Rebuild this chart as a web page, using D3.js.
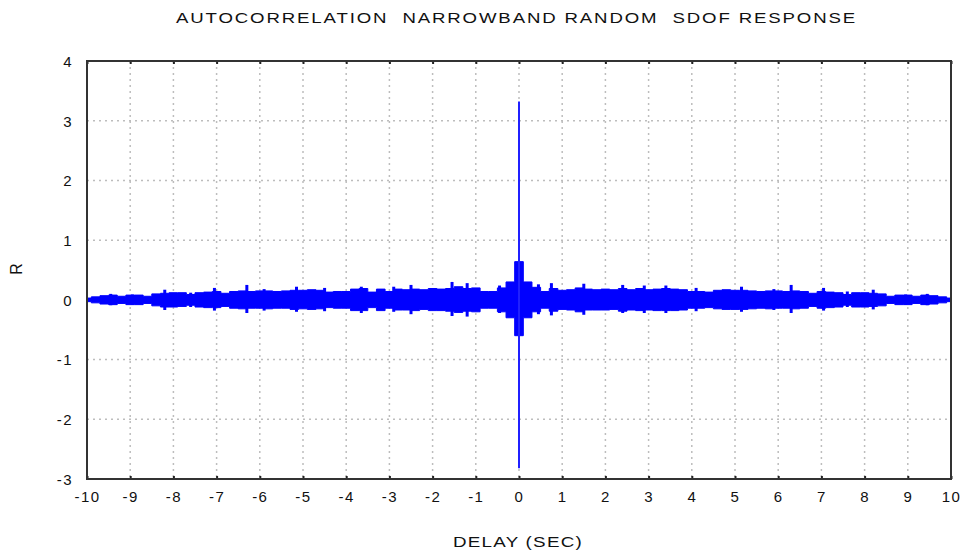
<!DOCTYPE html>
<html>
<head>
<meta charset="utf-8">
<script src="https://cdn.jsdelivr.net/npm/d3@7"></script>
<style>
body { margin: 0; background: #fff; }
text { font-family: "Liberation Sans", Arial, sans-serif; fill: #111; }
</style>
</head>
<body>
<svg id="chart" width="964" height="556"></svg>
<script>
// Tick values
const delayTicks = [-10, -9, -8, -7, -6, -5, -4, -3, -2, -1, 0, 1, 2, 3, 4, 5, 6, 7, 8, 9, 10];
const rTicks = [-3, -2, -1, 0, 1, 2, 3, 4];

// Sample delays (sec) for the envelope of the oscillating response
const delay = [
  -10.0, -9.8, -9.6, -9.4, -9.2, -9.0, -8.8, -8.6, -8.4, -8.2,
  -8.0, -7.8, -7.6, -7.4, -7.2, -7.0, -6.8, -6.6, -6.4, -6.2,
  -6.0, -5.8, -5.6, -5.4, -5.2, -5.0, -4.8, -4.6, -4.4, -4.2,
  -4.0, -3.8, -3.6, -3.4, -3.2, -3.0, -2.8, -2.6, -2.4, -2.2,
  -2.0, -1.8, -1.6, -1.4, -1.2, -1.0, -0.8, -0.6, -0.4, -0.2,
  0.0,
  0.2, 0.4, 0.6, 0.8, 1.0, 1.2, 1.4, 1.6, 1.8, 2.0,
  2.2, 2.4, 2.6, 2.8, 3.0, 3.2, 3.4, 3.6, 3.8, 4.0,
  4.2, 4.4, 4.6, 4.8, 5.0, 5.2, 5.4, 5.6, 5.8, 6.0,
  6.2, 6.4, 6.6, 6.8, 7.0, 7.2, 7.4, 7.6, 7.8, 8.0,
  8.2, 8.4, 8.6, 8.8, 9.0, 9.2, 9.4, 9.6, 9.8, 10.0
];

// Upper envelope of R in each sample bin
const rUpper = [
  0.03, 0.05, 0.07, 0.08, 0.06, 0.08, 0.08, 0.06, 0.10, 0.11,
  0.12, 0.12, 0.09, 0.12, 0.13, 0.14, 0.11, 0.14, 0.15, 0.14,
  0.15, 0.15, 0.14, 0.15, 0.16, 0.16, 0.17, 0.16, 0.13, 0.14,
  0.14, 0.18, 0.19, 0.13, 0.18, 0.14, 0.18, 0.17, 0.18, 0.17,
  0.19, 0.18, 0.19, 0.22, 0.19, 0.20, 0.14, 0.14, 0.20, 0.30,
  0.64,
  0.30, 0.21, 0.14, 0.19, 0.16, 0.17, 0.20, 0.18, 0.17, 0.18,
  0.17, 0.19, 0.17, 0.19, 0.17, 0.18, 0.19, 0.18, 0.17, 0.14,
  0.14, 0.13, 0.16, 0.17, 0.16, 0.16, 0.15, 0.14, 0.15, 0.15,
  0.14, 0.15, 0.14, 0.11, 0.14, 0.13, 0.12, 0.09, 0.12, 0.12,
  0.11, 0.10, 0.06, 0.08, 0.08, 0.06, 0.08, 0.07, 0.05, 0.03
];

// Lower envelope of R in each sample bin
const rLower = [
  -0.03, -0.05, -0.07, -0.08, -0.06, -0.08, -0.08, -0.06, -0.10, -0.12,
  -0.12, -0.11, -0.09, -0.12, -0.13, -0.13, -0.11, -0.14, -0.15, -0.14,
  -0.14, -0.15, -0.14, -0.14, -0.16, -0.15, -0.16, -0.15, -0.13, -0.14,
  -0.14, -0.18, -0.18, -0.13, -0.18, -0.14, -0.17, -0.17, -0.18, -0.16,
  -0.18, -0.18, -0.19, -0.21, -0.19, -0.20, -0.14, -0.14, -0.20, -0.30,
  -0.60,
  -0.30, -0.20, -0.14, -0.19, -0.16, -0.17, -0.20, -0.17, -0.17, -0.17,
  -0.16, -0.19, -0.17, -0.18, -0.17, -0.18, -0.18, -0.18, -0.17, -0.14,
  -0.14, -0.13, -0.15, -0.16, -0.16, -0.16, -0.15, -0.14, -0.15, -0.14,
  -0.14, -0.15, -0.14, -0.11, -0.14, -0.13, -0.12, -0.09, -0.12, -0.12,
  -0.11, -0.10, -0.06, -0.08, -0.08, -0.06, -0.08, -0.07, -0.05, -0.03
];

// Narrow local peaks sticking out of the envelope
const peakDelay = [-9.45, -8.95, -8.2, -7.6, -7.05, -6.3, -5.9, -5.15, -4.5, -3.65,
  -2.9, -2.5, -1.55, -1.2, -0.45, 0.45, 0.75, 1.5, 2.4, 2.9,
  3.4, 4.1, 5.15, 5.9, 6.3, 7.05, 7.6, 8.2, 8.95, 9.45];
const peakHi = [0.10, 0.09, 0.17, 0.12, 0.20, 0.25, 0.18, 0.22, 0.20, 0.22,
  0.22, 0.25, 0.30, 0.28, 0.24, 0.26, 0.28, 0.27, 0.25, 0.24,
  0.24, 0.20, 0.22, 0.18, 0.25, 0.20, 0.14, 0.17, 0.09, 0.10];
const peakLo = [-0.09, -0.08, -0.17, -0.12, -0.18, -0.22, -0.18, -0.20, -0.19, -0.22,
  -0.20, -0.24, -0.27, -0.28, -0.22, -0.24, -0.26, -0.25, -0.22, -0.22,
  -0.22, -0.19, -0.20, -0.17, -0.22, -0.18, -0.12, -0.16, -0.08, -0.09];

// Zero-delay spike
const spikeDelay = [0];
const spikeMax = [3.32];
const spikeMin = [-2.82];

const margin = { top: 61, right: 13, bottom: 77, left: 87 };
const width = 964 - margin.left - margin.right;
const height = 556 - margin.top - margin.bottom;

const svg = d3.select('#chart');
const g = svg.append('g').attr('transform', `translate(${margin.left},${margin.top})`);

const x = d3.scaleLinear().domain([-10, 10]).range([0, width]);
const y = d3.scaleLinear().domain([-3, 4]).range([height, 0]);

// Dotted grid
const grid = g.append('g').attr('stroke', '#bdbdbd').attr('stroke-width', 1.5).attr('stroke-dasharray', '2,4');
grid.selectAll('.vg').data(delayTicks.slice(1, -1)).join('line')
  .attr('x1', d => x(d)).attr('x2', d => x(d))
  .attr('y1', 0).attr('y2', height);
grid.selectAll('.hg').data(rTicks.slice(1, -1)).join('line')
  .attr('x1', 0).attr('x2', width)
  .attr('y1', d => y(d)).attr('y2', d => y(d));

// Response envelope (dense oscillation drawn as filled band)
const pts = delay.map((d, i) => ({ t: d, hi: rUpper[i], lo: rLower[i] }));
const area = d3.area()
  .x(d => x(d.t))
  .y0(d => y(d.lo))
  .y1(d => y(d.hi))
  .curve(d3.curveStep);
g.append('path')
  .datum(pts)
  .attr('d', area)
  .attr('fill', '#0000ff')
  .attr('stroke', '#0000ff')
  .attr('stroke-width', 1);

// Local peaks
g.selectAll('.peak').data(peakDelay).join('line')
  .attr('x1', d => x(d)).attr('x2', d => x(d))
  .attr('y1', (d, i) => y(peakHi[i]))
  .attr('y2', (d, i) => y(peakLo[i]))
  .attr('stroke', '#0000ff')
  .attr('stroke-width', 3);

// Spike at zero delay
g.selectAll('.spike').data(spikeDelay).join('line')
  .attr('x1', d => x(d)).attr('x2', d => x(d))
  .attr('y1', (d, i) => y(spikeMax[i]))
  .attr('y2', (d, i) => y(spikeMin[i]))
  .attr('stroke', '#2020ff')
  .attr('stroke-width', 2);

// Axes
const fmt = d => String(d);
const xAxis = g.append('g').attr('transform', `translate(0,${height})`)
  .call(d3.axisBottom(x).tickValues(delayTicks).tickFormat(fmt).tickSizeInner(-3).tickSizeOuter(0).tickPadding(12));
const xTop = g.append('g')
  .call(d3.axisTop(x).tickValues(delayTicks).tickSizeInner(-3).tickSizeOuter(0).tickFormat(''));
const yAxis = g.append('g')
  .call(d3.axisLeft(y).tickValues(rTicks).tickFormat(fmt).tickSizeInner(0).tickSizeOuter(0).tickPadding(14));

[xAxis, xTop, yAxis].forEach(a => {
  a.select('.domain').remove();
  a.selectAll('.tick line').attr('stroke', '#222').attr('stroke-width', 2);
  a.selectAll('text')
    .style('font-size', '15px')
    .style('letter-spacing', '1.5px')
    .attr('fill', '#111');
});
yAxis.selectAll('text').attr('dy', '0.36em');

// Frame
g.append('rect')
  .attr('width', width).attr('height', height)
  .attr('fill', 'none')
  .attr('stroke', '#333')
  .attr('stroke-width', 2);

// Titles
svg.append('text')
  .attr('x', 176).attr('y', 23)
  .attr('textLength', 681).attr('lengthAdjust', 'spacingAndGlyphs')
  .style('font-size', '15px').style('letter-spacing', '1.5px').style('white-space', 'pre')
  .text('AUTOCORRELATION  NARROWBAND RANDOM  SDOF RESPONSE');

svg.append('text')
  .attr('x', 453).attr('y', 547)
  .attr('textLength', 130).attr('lengthAdjust', 'spacingAndGlyphs')
  .style('font-size', '15px').style('letter-spacing', '1px').style('white-space', 'pre')
  .text('DELAY (SEC)');

svg.append('text')
  .attr('transform', 'translate(22,269) rotate(-90)')
  .attr('text-anchor', 'middle')
  .style('font-size', '16px')
  .text('R');
</script>
</body>
</html>
